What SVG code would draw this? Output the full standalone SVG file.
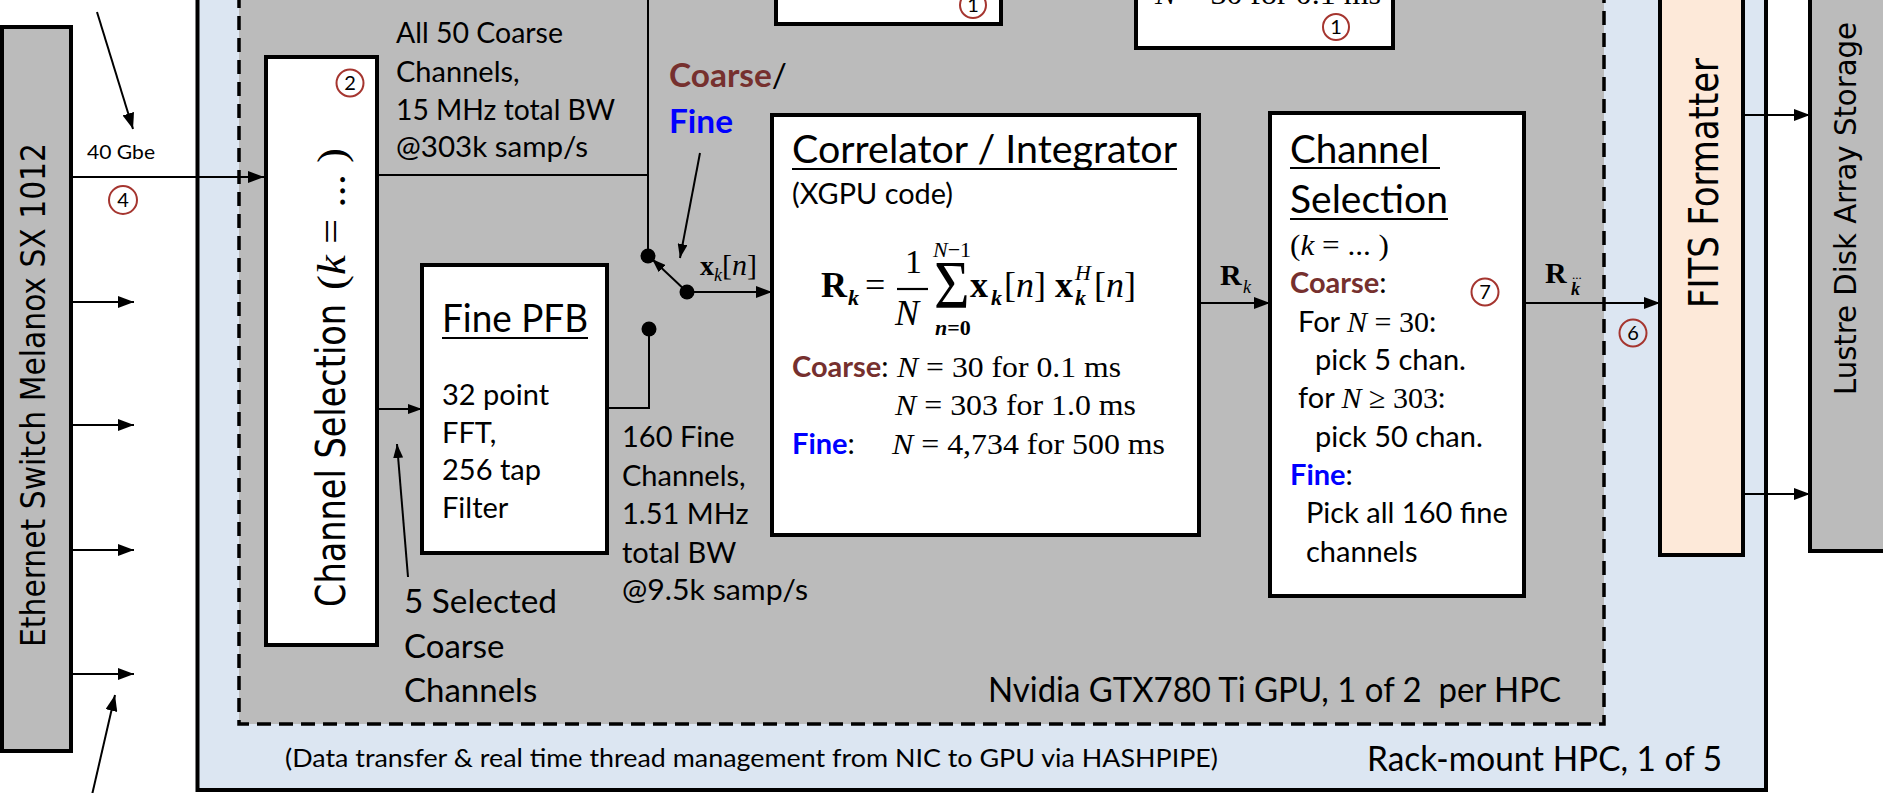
<svg xmlns="http://www.w3.org/2000/svg" width="1883" height="793" viewBox="0 0 1883 793">
<defs>
<marker id="ah" viewBox="0 0 16 12" refX="16" refY="6" markerWidth="16" markerHeight="12" markerUnits="userSpaceOnUse" orient="auto"><path d="M0,0 L16,6 L0,12 z" fill="#000"/></marker>
<marker id="ahs" viewBox="0 0 14 10" refX="14" refY="5" markerWidth="14" markerHeight="10" markerUnits="userSpaceOnUse" orient="auto"><path d="M0,0 L14,5 L0,10 z" fill="#000"/></marker>
</defs>
<style>
.box{stroke:#000;stroke-width:4}
.wb{fill:#fff;stroke:#000;stroke-width:4}
.t{font-family:Lato,"Open Sans","Liberation Sans",sans-serif;fill:#000}
.b{font-size:29px}
.ttl{font-size:38px}
.m{font-family:"Liberation Serif","Times New Roman",serif;fill:#000}
.v{font-family:"DejaVu Sans Condensed","DejaVu Sans",sans-serif;fill:#000}
.ln{stroke:#000;stroke-width:2;fill:none}
.ul{stroke:#000;stroke-width:2.2}
.circ{fill:none;stroke:#A5352F;stroke-width:2}
.cn{font-family:Lato,"Liberation Sans",sans-serif;font-size:20px;text-anchor:middle;fill:#000}
.co{fill:#76302E;font-weight:bold}
.fi{fill:#0000FF;font-weight:bold}
</style>
<rect x="0" y="0" width="1883" height="793" fill="#fff"/>

<g id="hpc">
<rect x="197.5" y="-10" width="1568.5" height="800" fill="#DCE6F2" class="box"/>
<text class="t" x="285" y="767" font-size="25" textLength="933" lengthAdjust="spacingAndGlyphs">(Data transfer &amp; real time thread management from NIC to GPU via HASHPIPE)</text>
<text class="t" x="1367" y="771" font-size="34" textLength="355" lengthAdjust="spacingAndGlyphs">Rack-mount HPC, 1 of 5</text>
</g>

<g id="gpu">
<rect x="239" y="-10" width="1365" height="734" fill="#BBBBBB" stroke="#000" stroke-width="3.5" stroke-dasharray="14 8"/>
<text class="t" x="988" y="702" font-size="34" textLength="573" lengthAdjust="spacingAndGlyphs">Nvidia GTX780 Ti GPU, 1 of 2&#160; per HPC</text>
</g>

<g id="ethernet">
<rect x="2" y="27" width="69" height="724" fill="#BBBBBB" class="box"/>
<text class="v" transform="translate(45,647) rotate(-90)" font-size="34" textLength="504" lengthAdjust="spacingAndGlyphs">Ethernet Switch Melanox SX 1012</text>
</g>

<g id="top-box-1">
<rect x="776" y="-10" width="225" height="34" class="wb"/>
<circle cx="973" cy="5" r="13" class="circ"/>
<text class="cn" x="973" y="12">1</text>
</g>

<g id="top-box-2">
<rect x="1136" y="-10" width="257" height="58" class="wb"/>
<text class="m" x="1155" y="4" font-size="30" textLength="226" lengthAdjust="spacingAndGlyphs"><tspan font-style="italic">N</tspan> = 30 for 0.1 ms</text>
<circle cx="1336" cy="27" r="13" class="circ"/>
<text class="cn" x="1336" y="34">1</text>
</g>

<g id="channel-selection-1">
<rect x="266" y="57" width="111" height="588" class="wb"/>
<text class="v" transform="translate(345,607) rotate(-90)" font-size="40" textLength="303" lengthAdjust="spacingAndGlyphs">Channel Selection</text>
<text class="m" transform="translate(345,290) rotate(-90)" font-size="40" textLength="142" lengthAdjust="spacingAndGlyphs">(<tspan font-style="italic">k</tspan> = ... )</text>
<circle cx="350" cy="83" r="13.5" class="circ"/>
<text class="cn" x="350" y="90">2</text>
</g>

<g id="fine-pfb">
<rect x="422" y="265" width="185" height="288" class="wb"/>
<text class="t ttl" x="442" y="332" textLength="146" lengthAdjust="spacingAndGlyphs">Fine PFB</text>
<line x1="442" y1="338" x2="588" y2="338" class="ul"/>
<text class="t b" x="442" y="405">32 point</text>
<text class="t b" x="442" y="443">FFT,</text>
<text class="t b" x="442" y="480">256 tap</text>
<text class="t b" x="442" y="518">Filter</text>
</g>

<g id="correlator">
<rect x="772" y="115" width="427" height="420" class="wb"/>
<text class="t ttl" x="792" y="163" textLength="385" lengthAdjust="spacingAndGlyphs">Correlator / Integrator</text>
<line x1="792" y1="169" x2="1177" y2="169" class="ul"/>
<text class="t b" x="792" y="204" textLength="161" lengthAdjust="spacingAndGlyphs">(XGPU code)</text>
<text class="m" x="821" y="297" font-size="36" font-weight="bold">R</text>
<text class="m" x="848" y="305" font-size="22" font-weight="bold" font-style="italic">k</text>
<text class="m" x="865" y="297" font-size="36">=</text>
<text class="m" x="905" y="273" font-size="34">1</text>
<line x1="897" y1="289" x2="928" y2="289" stroke="#000" stroke-width="2.2"/>
<text class="m" x="895" y="325" font-size="36" font-style="italic">N</text>
<text class="m" transform="translate(934,307) scale(0.9,1)" font-size="68">Σ</text>
<text class="m" x="933" y="257" font-size="22" font-style="italic">N<tspan font-style="normal">−1</tspan></text>
<text class="m" x="935" y="335" font-size="22" font-style="italic" font-weight="bold">n<tspan font-style="normal">=0</tspan></text>
<text class="m" x="970" y="297" font-size="36" font-weight="bold">x</text>
<text class="m" x="991" y="305" font-size="22" font-weight="bold" font-style="italic">k</text>
<text class="m" x="1004" y="297" font-size="36">[<tspan font-style="italic">n</tspan>]</text>
<text class="m" x="1055" y="297" font-size="36" font-weight="bold">x</text>
<text class="m" x="1075" y="280" font-size="22" font-style="italic">H</text>
<text class="m" x="1075" y="305" font-size="22" font-weight="bold" font-style="italic">k</text>
<text class="m" x="1094" y="297" font-size="36">[<tspan font-style="italic">n</tspan>]</text>
<text class="t b" x="792" y="377"><tspan class="co">Coarse</tspan>:</text>
<text class="m" x="897" y="377" font-size="30" textLength="224" lengthAdjust="spacingAndGlyphs"><tspan font-style="italic">N</tspan> = 30 for 0.1 ms</text>
<text class="m" x="895" y="415" font-size="30" textLength="241" lengthAdjust="spacingAndGlyphs"><tspan font-style="italic">N</tspan> = 303 for 1.0 ms</text>
<text class="t b" x="792" y="454"><tspan class="fi">Fine</tspan>:</text>
<text class="m" x="892" y="454" font-size="30" textLength="273" lengthAdjust="spacingAndGlyphs"><tspan font-style="italic">N</tspan> = 4,734 for 500 ms</text>
</g>

<g id="channel-selection-2">
<rect x="1270" y="113" width="254" height="483" class="wb"/>
<text class="t ttl" x="1290" y="163" textLength="139" lengthAdjust="spacingAndGlyphs">Channel</text>
<line x1="1290" y1="168" x2="1440" y2="168" class="ul"/>
<text class="t ttl" x="1290" y="213" textLength="158" lengthAdjust="spacingAndGlyphs">Selection</text>
<line x1="1290" y1="219" x2="1448" y2="219" class="ul"/>
<text class="m" x="1290" y="255" font-size="30" textLength="99" lengthAdjust="spacingAndGlyphs">(<tspan font-style="italic">k</tspan> = ... )</text>
<text class="t b" x="1290" y="293"><tspan class="co">Coarse</tspan>:</text>
<circle cx="1485" cy="292" r="13.5" class="circ"/>
<text class="cn" x="1485" y="299">7</text>
<text class="t b" x="1298" y="332">For <tspan class="m" font-size="30" font-style="italic">N</tspan><tspan class="m" font-size="30"> = 30</tspan>:</text>
<text class="t b" x="1315" y="370">pick 5 chan.</text>
<text class="t b" x="1298" y="408">for <tspan class="m" font-size="30" font-style="italic">N</tspan><tspan class="m" font-size="30"> ≥ 303</tspan>:</text>
<text class="t b" x="1315" y="447">pick 50 chan.</text>
<text class="t b" x="1290" y="485"><tspan class="fi">Fine</tspan>:</text>
<text class="t b" x="1306" y="523">Pick all 160 fine</text>
<text class="t b" x="1306" y="562">channels</text>
</g>

<g id="fits-formatter">
<rect x="1660" y="-10" width="83" height="565" fill="#FDE9D9" class="box"/>
<text class="v" transform="translate(1718,308) rotate(-90)" font-size="40" textLength="250" lengthAdjust="spacingAndGlyphs">FITS Formatter</text>
</g>

<g id="lustre-storage">
<rect x="1810" y="-10" width="90" height="561" fill="#BBBBBB" class="box"/>
<text class="v" transform="translate(1856,395) rotate(-90)" font-size="31" textLength="373" lengthAdjust="spacingAndGlyphs">Lustre Disk Array Storage</text>
</g>

<g id="switch">
<circle cx="648" cy="256" r="7.5" fill="#000"/>
<circle cx="687" cy="292" r="7.5" fill="#000"/>
<circle cx="649" cy="329" r="7.5" fill="#000"/>
</g>

<g id="connectors">
<line x1="71" y1="177" x2="264" y2="177" class="ln" marker-end="url(#ah)"/>
<line x1="71" y1="302" x2="134" y2="302" class="ln" marker-end="url(#ah)"/>
<line x1="71" y1="425" x2="134" y2="425" class="ln" marker-end="url(#ah)"/>
<line x1="71" y1="550" x2="134" y2="550" class="ln" marker-end="url(#ah)"/>
<line x1="71" y1="674" x2="134" y2="674" class="ln" marker-end="url(#ah)"/>
<line x1="97" y1="12" x2="133" y2="129" class="ln" marker-end="url(#ah)"/>
<line x1="92" y1="795" x2="115" y2="695" class="ln" marker-end="url(#ah)"/>
<path d="M377,175 H648" class="ln"/>
<path d="M648,-5 V256" class="ln"/>
<line x1="377" y1="409" x2="422" y2="409" class="ln" marker-end="url(#ahs)"/>
<line x1="408" y1="577" x2="397" y2="444" class="ln" marker-end="url(#ahs)"/>
<path d="M607,408 H649 V329" class="ln"/>
<line x1="687" y1="292" x2="652" y2="259" class="ln" marker-end="url(#ahs)"/>
<line x1="687" y1="292" x2="772" y2="292" class="ln" marker-end="url(#ah)"/>
<line x1="700" y1="153" x2="680" y2="258" class="ln" marker-end="url(#ahs)"/>
<line x1="1199" y1="303" x2="1270" y2="303" class="ln" marker-end="url(#ah)"/>
<line x1="1524" y1="303" x2="1660" y2="303" class="ln" marker-end="url(#ah)"/>
<line x1="1743" y1="115" x2="1810" y2="115" class="ln" marker-end="url(#ah)"/>
<line x1="1743" y1="494" x2="1810" y2="494" class="ln" marker-end="url(#ah)"/>
</g>

<g id="labels">
<text class="t" x="87" y="159" font-size="20" textLength="68" lengthAdjust="spacingAndGlyphs">40 Gbe</text>
<circle cx="123" cy="200" r="14" class="circ"/>
<text class="cn" x="123" y="207">4</text>
<text class="t b" x="396" y="43" textLength="167" lengthAdjust="spacingAndGlyphs">All 50 Coarse</text>
<text class="t b" x="396" y="82">Channels,</text>
<text class="t b" x="396" y="120" textLength="219" lengthAdjust="spacingAndGlyphs">15 MHz total BW</text>
<text class="t b" x="396" y="157" textLength="192" lengthAdjust="spacingAndGlyphs">@303k samp/s</text>
<text class="t" x="669" y="87" font-size="32" textLength="118" lengthAdjust="spacingAndGlyphs"><tspan class="co">Coarse</tspan>/</text>
<text class="t" x="669" y="133" font-size="32" textLength="64" lengthAdjust="spacingAndGlyphs"><tspan class="fi">Fine</tspan></text>
<text class="m" x="700" y="275" font-size="28" font-weight="bold">x</text>
<text class="m" x="714" y="281" font-size="18" font-style="italic">k</text>
<text class="m" x="722" y="275" font-size="30">[<tspan font-style="italic">n</tspan>]</text>
<text class="t" x="404" y="613" font-size="33" textLength="153" lengthAdjust="spacingAndGlyphs">5 Selected</text>
<text class="t" x="404" y="658" font-size="33">Coarse</text>
<text class="t" x="404" y="702" font-size="33">Channels</text>
<text class="t b" x="622" y="447">160 Fine</text>
<text class="t b" x="622" y="486">Channels,</text>
<text class="t b" x="622" y="524">1.51 MHz</text>
<text class="t b" x="622" y="563">total BW</text>
<text class="t b" x="622" y="600" textLength="186" lengthAdjust="spacingAndGlyphs">@9.5k samp/s</text>
<text class="m" x="1220" y="285" font-size="30" font-weight="bold">R</text>
<text class="m" x="1243" y="293" font-size="18" font-style="italic">k</text>
<text class="m" x="1545" y="283" font-size="30" font-weight="bold">R</text>
<text class="m" x="1571" y="295" font-size="18" font-weight="bold" font-style="italic">k</text>
<text class="m" x="1572" y="279" font-size="13">...</text>
<circle cx="1633" cy="333" r="13.5" class="circ"/>
<text class="cn" x="1633" y="340">6</text>
</g>
</svg>
